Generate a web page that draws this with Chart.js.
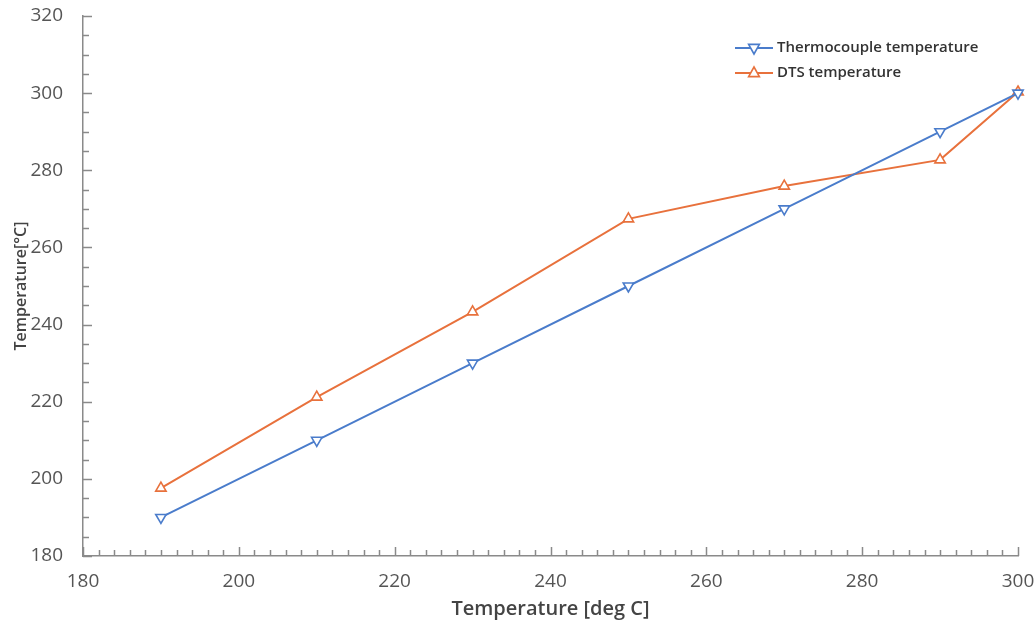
<!DOCTYPE html>
<html>
<head>
<meta charset="utf-8">
<script src="https://cdn.jsdelivr.net/npm/chart.js@4.4.0/dist/chart.umd.min.js"></script>
<style>
  html, body { margin: 0; padding: 0; background: #fff; }
  #wrap { width: 1035px; height: 625px; position: relative; }
</style>
</head>
<body>
<div id="wrap"><canvas id="chart" width="1035" height="625"></canvas></div>
<script>
// values
const xValues = [190, 210, 230, 250, 270, 290, 300];
const thermocouple = [190, 210, 230, 250, 270, 290, 300];
const dts = [197.6, 221.2, 243.3, 267.4, 275.9, 282.7, 300.3];
const seriesNames = ["Thermocouple temperature", "DTS temperature"];

const BLUE = "#4a7ccb";
const ORANGE = "#e8713c";
const AXIS = "#8a8a8a";
const TEXT = "#555";

function toPoints(ys) {
  return xValues.map((x, i) => ({ x, y: ys[i] }));
}

function drawMarker(ctx, x, y, color, rot) {
  ctx.save();
  ctx.translate(x, y);
  ctx.rotate(rot);
  ctx.beginPath();
  const r = 6;
  ctx.moveTo(0, -r);
  ctx.lineTo(r * 0.9, r * 0.6);
  ctx.lineTo(-r * 0.9, r * 0.6);
  ctx.closePath();
  ctx.fillStyle = "#fff";
  ctx.fill();
  ctx.strokeStyle = color;
  ctx.lineWidth = 1.6;
  ctx.stroke();
  ctx.restore();
}

// inward ticks + legend with line/marker samples
const extras = {
  id: "extras",
  afterDraw(chart) {
    const { ctx, chartArea, scales } = chart;
    const xs = scales.x, ys = scales.y;
    ctx.save();
    ctx.strokeStyle = AXIS;
    ctx.lineWidth = 1.5;
    ctx.beginPath();
    for (let v = 180; v <= 300; v += 2) {
      const px = Math.round(xs.getPixelForValue(v)) + 0.5;
      const len = v % 20 === 0 ? 9 : 6;
      ctx.moveTo(px, chartArea.bottom);
      ctx.lineTo(px, chartArea.bottom - len);
    }
    for (let v = 180; v <= 320; v += 5) {
      const py = Math.round(ys.getPixelForValue(v)) + 0.5;
      const len = v % 20 === 0 ? 9 : 6;
      ctx.moveTo(chartArea.left, py);
      ctx.lineTo(chartArea.left + len, py);
    }
    ctx.stroke();

    // legend
    const items = [
      { label: seriesNames[0], color: BLUE, rot: Math.PI, y: 48 },
      { label: seriesNames[1], color: ORANGE, rot: 0, y: 73 },
    ];
    items.forEach((it) => {
      ctx.strokeStyle = it.color;
      ctx.lineWidth = 2;
      ctx.beginPath();
      ctx.moveTo(735, it.y);
      ctx.lineTo(773, it.y);
      ctx.stroke();
      drawMarker(ctx, 754, it.y, it.color, it.rot);
      ctx.fillStyle = "#333";
      ctx.font = "600 15px 'Open Sans'";
      ctx.textBaseline = "middle";
      ctx.fillText(it.label, 777, it.y);
    });
    ctx.restore();
  },
};

new Chart(document.getElementById("chart"), {
  type: "line",
  data: {
    datasets: [
      {
        label: seriesNames[0],
        data: toPoints(thermocouple),
        borderColor: BLUE,
        backgroundColor: "#fff",
        borderWidth: 2,
        pointStyle: "triangle",
        rotation: 180,
        pointRadius: 6,
        pointBorderWidth: 1.6,
        tension: 0,
        clip: false,
      },
      {
        label: seriesNames[1],
        data: toPoints(dts),
        borderColor: ORANGE,
        backgroundColor: "#fff",
        borderWidth: 2,
        pointStyle: "triangle",
        pointRadius: 6,
        pointBorderWidth: 1.6,
        tension: 0,
        clip: false,
      },
    ],
  },
  options: {
    responsive: false,
    animation: false,
    layout: { padding: { top: 16, right: 17, left: 8, bottom: 0 } },
    plugins: { legend: { display: false }, tooltip: { enabled: false } },
    scales: {
      x: {
        type: "linear",
        min: 180,
        max: 300,
        grid: { display: false },
        border: { color: AXIS, width: 1.5 },
        ticks: {
          stepSize: 20,
          color: TEXT,
          padding: 6,
          font: { family: "'Open Sans'", size: 19 },
          maxRotation: 0,
        },
        title: {
          display: true,
          text: "Temperature [deg C]",
          color: "#444",
          font: { family: "'Open Sans'", size: 20, weight: "600" },
          padding: { top: 2 },
        },
        afterFit: (s) => { s.height = 69; s.paddingLeft = 0; s.paddingRight = 0; },
      },
      y: {
        min: 180,
        max: 320,
        grid: { display: false },
        border: { color: AXIS, width: 1.5 },
        ticks: {
          stepSize: 20,
          color: TEXT,
          padding: 12,
          font: { family: "'Open Sans'", size: 19 },
        },
        title: {
          display: true,
          text: "Temperature[°C]",
          color: "#444",
          font: { family: "'Open Sans'", size: 16, weight: "600" },
          padding: { bottom: 0 },
        },
        afterFit: (s) => { s.width = 75; s.paddingTop = 0; s.paddingBottom = 0; },
      },
    },
  },
  plugins: [extras],
});
</script>
</body>
</html>
